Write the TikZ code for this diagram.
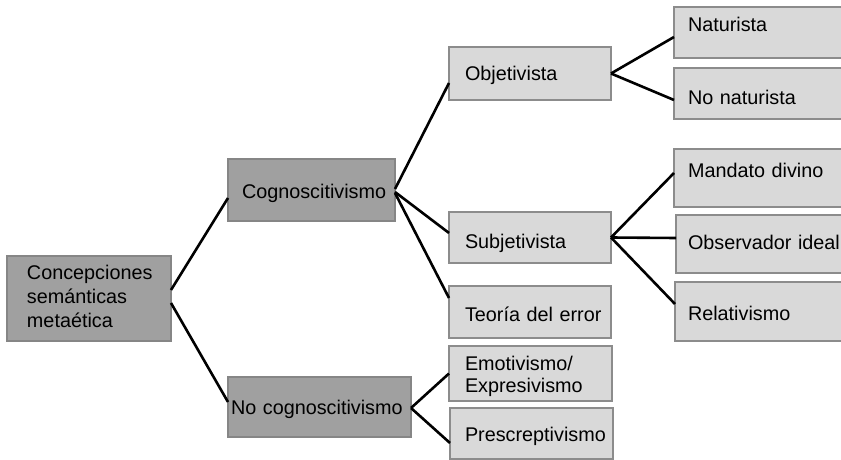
\documentclass[tikz,border=0pt]{standalone}
\usepackage{fontspec}
\setmainfont{Liberation Sans}
\newcommand\ind[1]{\hspace*{#1pt}}
\definecolor{darkfill}{HTML}{A0A0A0}
\definecolor{darkline}{HTML}{868686}
\definecolor{lightfill}{HTML}{D9D9D9}
\definecolor{lightline}{HTML}{8C8C8C}
\begin{document}
\begin{tikzpicture}[x=1pt,y=-1pt,
  basebox/.style={draw, line width=2pt, anchor=north west, inner xsep=0pt, inner ysep=0pt,
    outer sep=0pt, align=left, text=black, font=\fontsize{19.8}{24}\selectfont},
  darkbox/.style={basebox, fill=darkfill, draw=darkline},
  lightbox/.style={basebox, fill=lightfill, draw=lightline},
  conn/.style={line width=2.6pt, black}]
\useasboundingbox (0,0) rectangle (841,460);

% level 0
\node[darkbox, text width=164pt, text height=23pt, text depth=62pt] (root) at (7,256)
  {\ind{20}Concepciones\\\ind{20}semánticas\\\ind{20}metaética};
% level 1
\node[darkbox, text width=167pt, text height=39pt, text depth=23pt] (cog) at (228,159)
  {\ind{14}Cognoscitivismo};
\node[darkbox, text width=183pt, text height=37pt, text depth=23pt] (nocog) at (228,377)
  {\ind{3}No cognoscitivismo};
% level 2
\node[lightbox, text width=162pt, text height=34pt, text depth=19pt] (obj) at (449,47)
  {\ind{16}Objetivista};
\node[lightbox, text width=162pt, text height=36pt, text depth=15pt] (subj) at (449,212)
  {\ind{16}Subjetivista};
\node[lightbox, text width=162pt, text height=35pt, text depth=17pt] (teo) at (449,286)
  {\ind{16}Teoría del error};
\node[lightbox, text width=163pt, text height=24pt, text depth=31pt,
  font=\fontsize{19.8}{22}\selectfont] (emo) at (449,346)
  {\ind{16}Emotivismo/\\\ind{16}Expresivismo};
\node[lightbox, text width=163pt, text height=33pt, text depth=18pt] (pres) at (450,408)
  {\ind{15}Prescreptivismo};
% level 3
\node[lightbox, text width=180pt, text height=25pt, text depth=26pt] (nat) at (674,7)
  {\ind{14}Naturista};
\node[lightbox, text width=180pt, text height=36pt, text depth=15pt] (nonat) at (674,68)
  {\ind{14}No naturista};
\node[lightbox, text width=180pt, text height=28pt, text depth=30pt] (mand) at (674,149)
  {\ind{14}Mandato divino};
\node[lightbox, text width=180pt, text height=34pt, text depth=24pt] (obs) at (676,215)
  {\ind{12}Observador ideal};
\node[lightbox, text width=180pt, text height=38pt, text depth=21pt] (rel) at (675,282)
  {\ind{13}Relativismo};

% connectors
\draw[conn] ([yshift=8.5pt]root.east) -- ([yshift=-8pt]cog.west);
\draw[conn] ([yshift=-4.5pt]root.east) -- ([yshift=5pt]nocog.west);
\draw[conn] ([yshift=1pt]cog.east) -- ([yshift=-9.5pt]obj.west);
\draw[conn] ([yshift=-2pt]cog.east) -- ([yshift=4.5pt]subj.west);
\draw[conn] ([yshift=-3pt]cog.east) -- ([yshift=14pt]teo.west);
\draw[conn] (obj.east) -- ([yshift=-4.5pt]nat.west);
\draw[conn] (obj.east) -- ([yshift=-6.5pt]nonat.west);
\draw[conn] (subj.east) -- ([yshift=5pt]mand.west);
\draw[conn] (subj.east) -- ([yshift=6pt]obs.west);
\draw[conn] (subj.east) -- ([yshift=7.5pt]rel.west);
\draw[conn] ([yshift=-1pt]nocog.east) -- (emo.west);
\draw[conn] ([yshift=-1pt]nocog.east) -- ([yshift=-9.5pt]pres.west);
\end{tikzpicture}
\end{document}
